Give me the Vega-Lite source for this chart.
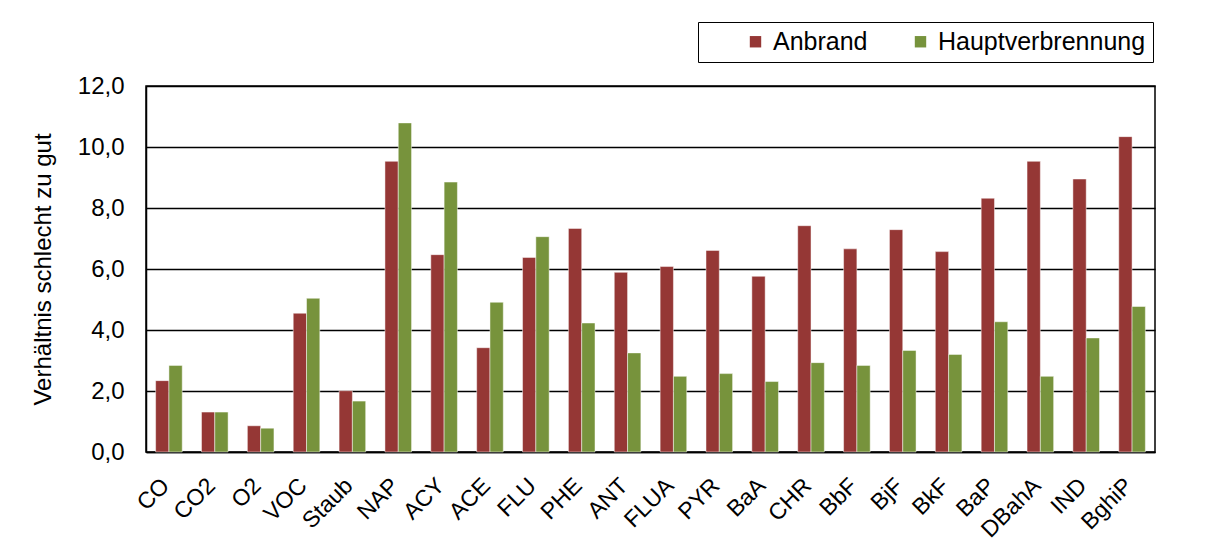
{
  "$schema": "https://vega.github.io/schema/vega-lite/v6.json",
  "width": 1009,
  "height": 366,
  "autosize": {"type": "none"},
  "padding": {"left": 146, "top": 86, "right": 55, "bottom": 98},
  "background": "white",
  "config": {
    "font": "Liberation Sans",
    "view": {"stroke": "#000000", "strokeWidth": 1.5}
  },
  "data": {
    "values": [
      {"k": "CO", "s": "Anbrand", "v": 2.34}, {"k": "CO", "s": "Hauptverbrennung", "v": 2.84},
      {"k": "CO2", "s": "Anbrand", "v": 1.31}, {"k": "CO2", "s": "Hauptverbrennung", "v": 1.31},
      {"k": "O2", "s": "Anbrand", "v": 0.86}, {"k": "O2", "s": "Hauptverbrennung", "v": 0.78},
      {"k": "VOC", "s": "Anbrand", "v": 4.55}, {"k": "VOC", "s": "Hauptverbrennung", "v": 5.04},
      {"k": "Staub", "s": "Anbrand", "v": 2.01}, {"k": "Staub", "s": "Hauptverbrennung", "v": 1.67},
      {"k": "NAP", "s": "Anbrand", "v": 9.53}, {"k": "NAP", "s": "Hauptverbrennung", "v": 10.79},
      {"k": "ACY", "s": "Anbrand", "v": 6.47}, {"k": "ACY", "s": "Hauptverbrennung", "v": 8.85},
      {"k": "ACE", "s": "Anbrand", "v": 3.42}, {"k": "ACE", "s": "Hauptverbrennung", "v": 4.91},
      {"k": "FLU", "s": "Anbrand", "v": 6.38}, {"k": "FLU", "s": "Hauptverbrennung", "v": 7.06},
      {"k": "PHE", "s": "Anbrand", "v": 7.33}, {"k": "PHE", "s": "Hauptverbrennung", "v": 4.23},
      {"k": "ANT", "s": "Anbrand", "v": 5.89}, {"k": "ANT", "s": "Hauptverbrennung", "v": 3.25},
      {"k": "FLUA", "s": "Anbrand", "v": 6.08}, {"k": "FLUA", "s": "Hauptverbrennung", "v": 2.48},
      {"k": "PYR", "s": "Anbrand", "v": 6.61}, {"k": "PYR", "s": "Hauptverbrennung", "v": 2.57},
      {"k": "BaA", "s": "Anbrand", "v": 5.76}, {"k": "BaA", "s": "Hauptverbrennung", "v": 2.31},
      {"k": "CHR", "s": "Anbrand", "v": 7.42}, {"k": "CHR", "s": "Hauptverbrennung", "v": 2.93},
      {"k": "BbF", "s": "Anbrand", "v": 6.66}, {"k": "BbF", "s": "Hauptverbrennung", "v": 2.84},
      {"k": "BjF", "s": "Anbrand", "v": 7.29}, {"k": "BjF", "s": "Hauptverbrennung", "v": 3.33},
      {"k": "BkF", "s": "Anbrand", "v": 6.57}, {"k": "BkF", "s": "Hauptverbrennung", "v": 3.2},
      {"k": "BaP", "s": "Anbrand", "v": 8.32}, {"k": "BaP", "s": "Hauptverbrennung", "v": 4.27},
      {"k": "DBahA", "s": "Anbrand", "v": 9.53}, {"k": "DBahA", "s": "Hauptverbrennung", "v": 2.48},
      {"k": "IND", "s": "Anbrand", "v": 8.95}, {"k": "IND", "s": "Hauptverbrennung", "v": 3.74},
      {"k": "BghiP", "s": "Anbrand", "v": 10.34}, {"k": "BghiP", "s": "Hauptverbrennung", "v": 4.77}
    ]
  },
  "mark": {"type": "bar", "stroke": "#ffffff", "strokeWidth": 0.8, "strokeOpacity": 0.6},
  "encoding": {
    "x": {
      "field": "k",
      "type": "nominal",
      "sort": null,
      "scale": {"paddingInner": 0.42, "paddingOuter": 0.21},
      "axis": {
        "title": null,
        "labelAngle": -45,
        "labelFontSize": 23,
        "labelColor": "#000000",
        "labelPadding": 22,
        "labelOffset": -11,
        "labelLimit": 300,
        "ticks": false,
        "domainColor": "#000000",
        "domainWidth": 1.5
      }
    },
    "xOffset": {"field": "s", "type": "nominal", "scale": {"paddingInner": 0, "paddingOuter": 0}},
    "y": {
      "field": "v",
      "type": "quantitative",
      "scale": {"domain": [0, 12], "nice": false},
      "axis": {
        "title": "Verhältnis schlecht zu gut",
        "titleFontSize": 24,
        "titleFontWeight": "normal",
        "titleColor": "#000000",
        "titlePadding": 22,
        "values": [0, 2, 4, 6, 8, 10, 12],
        "labelExpr": "replace(format(datum.value, '.1f'), '.', ',')",
        "labelFontSize": 24,
        "labelColor": "#000000",
        "labelPadding": 22,
        "ticks": false,
        "grid": true,
        "gridColor": "#000000",
        "gridWidth": 1.5,
        "domainColor": "#000000",
        "domainWidth": 1.5
      }
    },
    "color": {
      "field": "s",
      "type": "nominal",
      "scale": {"domain": ["Anbrand", "Hauptverbrennung"], "range": ["#953735", "#77933C"]},
      "legend": {
        "title": null,
        "orient": "none",
        "legendX": 552,
        "legendY": -64,
        "direction": "horizontal",
        "strokeColor": "#000000",
        "padding": 7,
        "labelFontSize": 25,
        "labelLimit": 400,
        "labelColor": "#000000",
        "symbolType": "square",
        "symbolSize": 130,
        "symbolStrokeWidth": 0,
        "symbolOffset": 38,
        "columnPadding": 2,
        "labelOffset": 5
      }
    }
  }
}
